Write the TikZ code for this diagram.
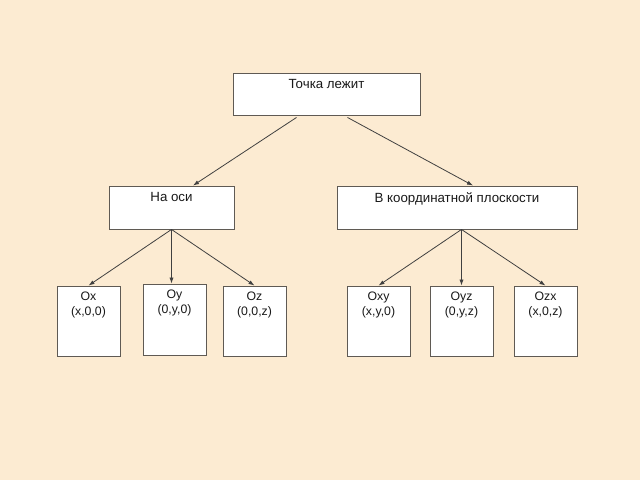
\documentclass[tikz,border=0pt]{standalone}
\usepackage{fontspec}
\setmainfont{Liberation Sans}
\usepackage{xcolor}
\usetikzlibrary{positioning,arrows.meta}

\definecolor{paper}{HTML}{FCEBD2}
\definecolor{edge}{HTML}{5F5A54}

\begin{document}
\begin{tikzpicture}[x=1pt,y=-1pt,
    box/.style={draw=edge,fill=white,line width=0.9pt,inner sep=0pt},
    txt/.style={anchor=north,inner sep=0pt,align=center,text=black!90,font=\fontsize{12.3}{14.5}\selectfont},
    big/.style={txt,font=\fontsize{13.3}{15}\selectfont},
    arr/.style={-{Latex[length=6pt,width=4.2pt]},draw=black!75,line width=0.8pt}
  ]
    \fill[paper] (0,0) rectangle (640,480);
    \useasboundingbox (0,0) rectangle (640,480);
    % top level
    \node[box,minimum width=187pt,minimum height=42pt,
      label={[big,yshift=-7pt]north:Точка лежит}] (point) at (326.5,94) {};
    % second level
    \node[box,minimum width=125pt,minimum height=43pt,
      label={[big,yshift=-7pt]north:На оси}] (axis) at (171.5,207.5) {};
    \node[box,minimum width=240pt,minimum height=43pt,
      label={[big,yshift=-7pt]north:В координатной плоскости}] (plane) at (457,207.5) {};
    % axes
    \node[box,minimum width=63pt,minimum height=70pt,
      label={[txt,yshift=-6.5pt]north:Ox\\(x,0,0)}] (ox) at (88.5,321) {};
    \node[box,minimum width=63pt,minimum height=71pt,
      label={[txt,yshift=-6.5pt]north:Oy\\(0,y,0)}] (oy) at (174.5,319.5) {};
    \node[box,minimum width=63pt,minimum height=70pt,
      label={[txt,yshift=-6.5pt]north:Oz\\(0,0,z)}] (oz) at (254.5,321) {};
    % planes
    \node[box,minimum width=63pt,minimum height=70pt,
      label={[txt,yshift=-6.5pt]north:Oxy\\(x,y,0)}] (oxy) at (378.5,321) {};
    \node[box,minimum width=63pt,minimum height=70pt,
      label={[txt,yshift=-6.5pt]north:Oyz\\(0,y,z)}] (oyz) at (461.5,321) {};
    \node[box,minimum width=63pt,minimum height=70pt,
      label={[txt,yshift=-6.5pt]north:Ozx\\(x,0,z)}] (ozx) at (545.5,321) {};

    \draw[arr] ([xshift=-30pt,yshift=-2pt]point.south) -- ([xshift=21.5pt]axis.north);
    \draw[arr] ([xshift=21pt,yshift=-2pt]point.south) -- ([xshift=16pt]plane.north);
    \draw[arr] (axis.south) -- (ox.north);
    \draw[arr] (axis.south) -- ([xshift=-3pt]oy.north);
    \draw[arr] (axis.south) -- (oz.north);
    \foreach \n in {oxy,oyz,ozx}
      \draw[arr] ([xshift=4.5pt]plane.south) -- (\n.north);
\end{tikzpicture}
\end{document}
